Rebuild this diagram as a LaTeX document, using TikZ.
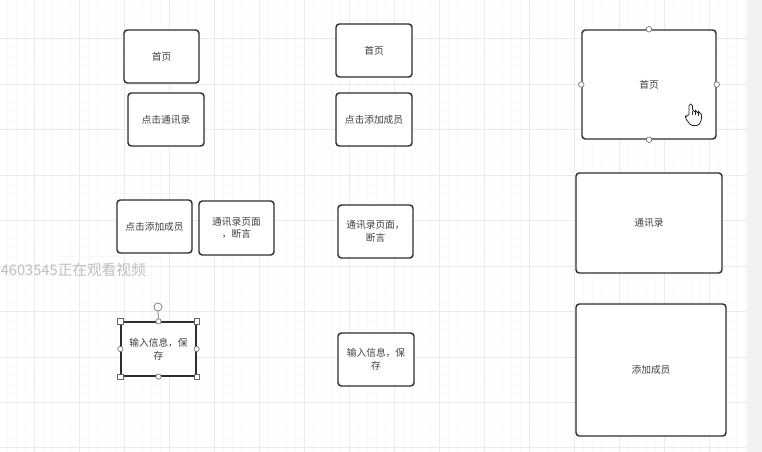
\documentclass[tikz,border=0pt]{standalone}
\usepackage{fontspec}
\newfontfamily\cjk{Noto Sans CJK SC}
\begin{document}
\begin{tikzpicture}[x=0.75pt,y=-0.75pt,
  box/.style={draw=black!82, line width=1.1pt, rounded corners=2.5pt, fill=white,
    inner sep=0pt, align=center, text=black!75,
    font=\cjk\fontsize{7.3}{9.4}\selectfont},
  handlesq/.style={draw=black!60, fill=white, line width=0.5pt, minimum size=4pt, inner sep=0pt, rectangle},
  handlecirc/.style={draw=black!55, fill=white, line width=0.5pt, minimum size=4pt, inner sep=0pt, circle},
  gridmajor/.style={draw=black!8, line width=0.5pt},
  gridminor/.style={draw=black!2.5, line width=0.4pt}
]
\useasboundingbox (0,0) rectangle (762,452);
\fill[white] (0,0) rectangle (762,452);
% grid
\foreach \x in {7,16,25,43,52,61,70,88,97,106,115,133,142,151,160,178,187,196,205,223,232,241,250,268,277,286,295,313,322,331,340,358,367,376,385,403,412,421,430,448,457,466,475,493,502,511,520,538,547,556,565,583,592,601,610,628,637,646,655,673,682,691,700,718,727,736,745}
  \draw[gridminor] (\x,0) -- (\x,452);
\foreach \y in {2,11,20,29,47,56,65,74,93,102,111,120,138,147,156,165,184,193,202,211,229,238,247,256,275,284,293,302,320,329,338,347,366,375,384,393,411,420,429,438}
  \draw[gridminor] (0,\y) -- (747,\y);
\foreach \x in {34,79,124,169,214,259,304,349,394,439,484,529,574,619,664,709}
  \draw[gridmajor] (\x,0) -- (\x,452);
\foreach \y in {38,84,129,175,220,266,311,357,402,447}
  \draw[gridmajor] (0,\y) -- (747,\y);
\fill[black!5] (747,0) rectangle (762,452);
% watermark
\node[anchor=west, inner sep=0pt, text=black!25, font=\cjk\fontsize{11}{13}\selectfont] (wm) at (0.5,270) {4603545正在观看视频};
% left column
\node[box, minimum width=56.25pt, minimum height=39.75pt] (a1) at (161.5,56.5) {首页};
\node[box, minimum width=57pt, minimum height=39.75pt] (a2) at (166,119.5) {点击通讯录};
\node[box, minimum width=56.25pt, minimum height=39.75pt] (a3) at (154.5,226.5) {点击添加成员};
\node[box, minimum width=56.25pt, minimum height=40.5pt] (a4) at (236.5,228) {通讯录页面\\，断言};
\node[box, rounded corners=0pt, line width=0.9pt, minimum width=56.25pt, minimum height=40.5pt] (a5) at (158.5,349) {输入信息，保\\存};
% selection handles
\node[handlecirc, minimum size=6pt] (rot) at (158,307) {};
\draw[black!55, line width=0.6pt] (rot.south) -- (a5.north);
\foreach \p in {north west,north east,south west,south east}
  \node[handlesq] at (a5.\p) {};
\foreach \p in {north,south,west,east}
  \node[handlecirc] at (a5.\p) {};
% middle column
\node[box, minimum width=57pt, minimum height=39.75pt] (b1) at (374,50.5) {首页};
\node[box, minimum width=57pt, minimum height=39.75pt] (b2) at (374,119.5) {点击添加成员};
\node[box, minimum width=56.25pt, minimum height=39.75pt] (b3) at (375.5,231.5) {通讯录页面，\\断言};
\node[box, minimum width=57pt, minimum height=39.75pt] (b4) at (376,359.5) {输入信息，保\\存};
% right column
\node[box, minimum width=100.5pt, minimum height=81.75pt] (c1) at (649,84.5) {首页};
\foreach \p in {north,south,west,east}
  \node[handlecirc, minimum size=4.2pt] at (c1.\p) {};
\node[box, minimum width=109.5pt, minimum height=75pt] (c2) at (649,223) {通讯录};
\node[box, minimum width=112.5pt, minimum height=99pt] (c3) at (651,370) {添加成员};
% hand cursor
\draw[fill=white, draw=black!85, line width=0.6pt, rounded corners=1.2pt]
  (689,116) -- (689,104) -- (692.5,104) -- (692.5,111) -- (695.5,111) -- (695.5,112)
  -- (698.5,112) -- (698.5,113) -- (701.5,113) -- (701.5,120) -- (698.5,125.5)
  -- (691,125.5) -- (685.5,118.5) -- (685.5,115.5) -- cycle;
\draw[black!85, line width=0.5pt] (692.5,111) -- (692.5,115) (695.5,112) -- (695.5,115.5) (698.5,113) -- (698.5,116);
\end{tikzpicture}
\end{document}
